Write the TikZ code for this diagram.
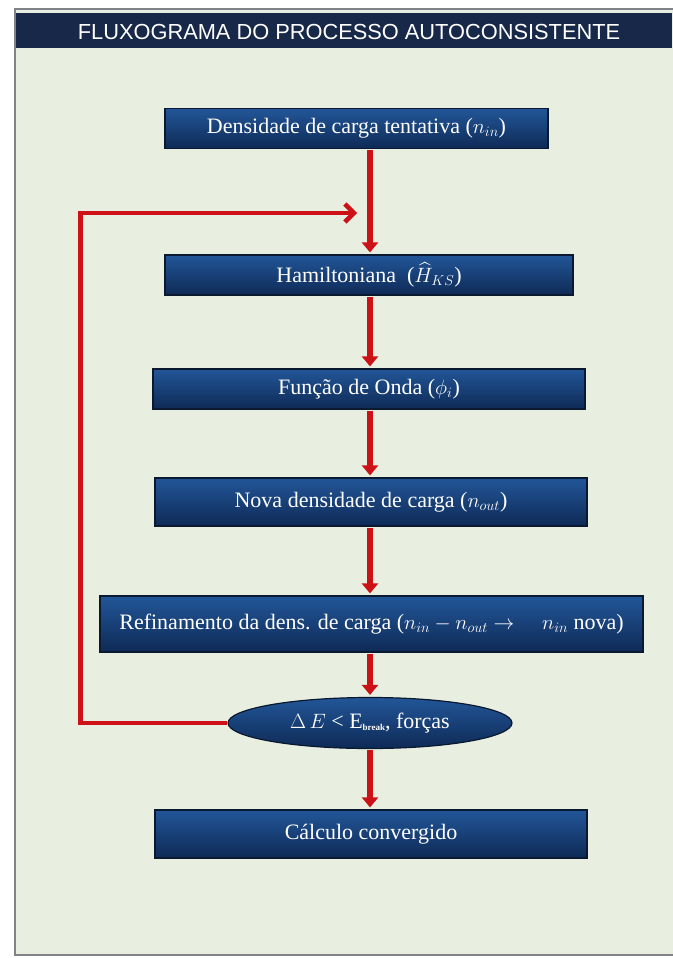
\documentclass[tikz,border=0pt]{standalone}
\usepackage{amsmath}
\usepackage{fontspec}
\setmainfont{Liberation Serif}
\newfontfamily\headfont{Liberation Sans}
\usetikzlibrary{arrows.meta,shapes.geometric}

\definecolor{panelgreen}{RGB}{233,239,224}
\definecolor{panelgray}{RGB}{128,132,136}
\definecolor{headnavy}{RGB}{24,40,72}
\definecolor{boxtop}{RGB}{34,86,152}
\definecolor{boxmid}{RGB}{42,100,170}
\definecolor{boxbot}{RGB}{14,42,86}
\definecolor{boxline}{RGB}{10,24,48}
\definecolor{flowred}{RGB}{204,18,22}

\begin{document}
\begin{tikzpicture}[x=1pt,y=-1pt,
	stage/.style={shape=rectangle,draw=boxline,line width=1.2pt,top color=boxtop,middle color=boxmid,bottom color=boxbot,text=white,font=\fontsize{22}{25}\selectfont,inner sep=0pt},
	check/.style={shape=ellipse,draw=boxline,line width=1.2pt,top color=boxtop,middle color=boxmid,bottom color=boxbot,text=white,font=\fontsize{22}{25}\selectfont,inner sep=0pt},
	flow/.style={draw=flowred,line width=6pt,-{Triangle[width=16pt,length=10pt]},shorten >=2pt,shorten <=1pt},
	back/.style={draw=flowred,line width=4.5pt,line join=miter,-{Straight Barb[length=9pt,width=18pt]}}]
	
	\useasboundingbox (0,0) rectangle (672,958);
	\fill[white] (0,0) rectangle (672,958);
	\filldraw[fill=panelgreen,draw=panelgray,line width=2pt] (15,9) rectangle (674,955);
	\fill[headnavy] (16,13) rectangle (672,48);
	\node[text=white,font=\headfont\fontsize{21.8}{24}\selectfont] (title) at (349,32) {FLUXOGRAMA DO PROCESSO AUTOCONSISTENTE};
	
	\node[stage,minimum width=383,minimum height=40] (dens) at (356.5,128.5) {Densidade de carga tentativa ($n_{in}$)};
	\node[stage,minimum width=408,minimum height=40] (ham) at (369,275) {Hamiltoniana\ \ ($\widehat{H}_{KS}$)};
	\node[stage,minimum width=432,minimum height=40] (onda) at (369,389) {Função de Onda ($\phi_i$)};
	\node[stage,minimum width=432,minimum height=48] (nova) at (371,502) {Nova densidade de carga ($n_{out}$)};
	\node[stage,minimum width=543,minimum height=56] (refi) at (371.5,624) {Refinamento da dens. de carga ($n_{in}-n_{out}\rightarrow\quad n_{in}$ nova)};
	\node[check,minimum width=284,minimum height=51] (conv) at (370,723) {$\Delta\,E$ < E\raisebox{-2pt}{\fontsize{9}{9}\selectfont\bfseries break}, forças};
	\node[stage,minimum width=432,minimum height=48] (fim) at (371,834) {Cálculo convergido};
	
	\coordinate (join) at (357,213);
	
	\draw[flow] (dens.south -| conv) -- (ham.north -| conv);
	\draw[flow] (ham.south -| conv) -- (onda.north -| conv);
	\draw[flow] (onda.south -| conv) -- (nova.north -| conv);
	\draw[flow] (nova.south -| conv) -- (refi.north -| conv);
	\draw[flow] (refi.south -| conv) -- (conv.north);
	\draw[flow] (conv.south) -- (fim.north -| conv);
	\draw[back] (conv.west) -- ++(-147,0) |- (join);
	
\end{tikzpicture}
\end{document}
